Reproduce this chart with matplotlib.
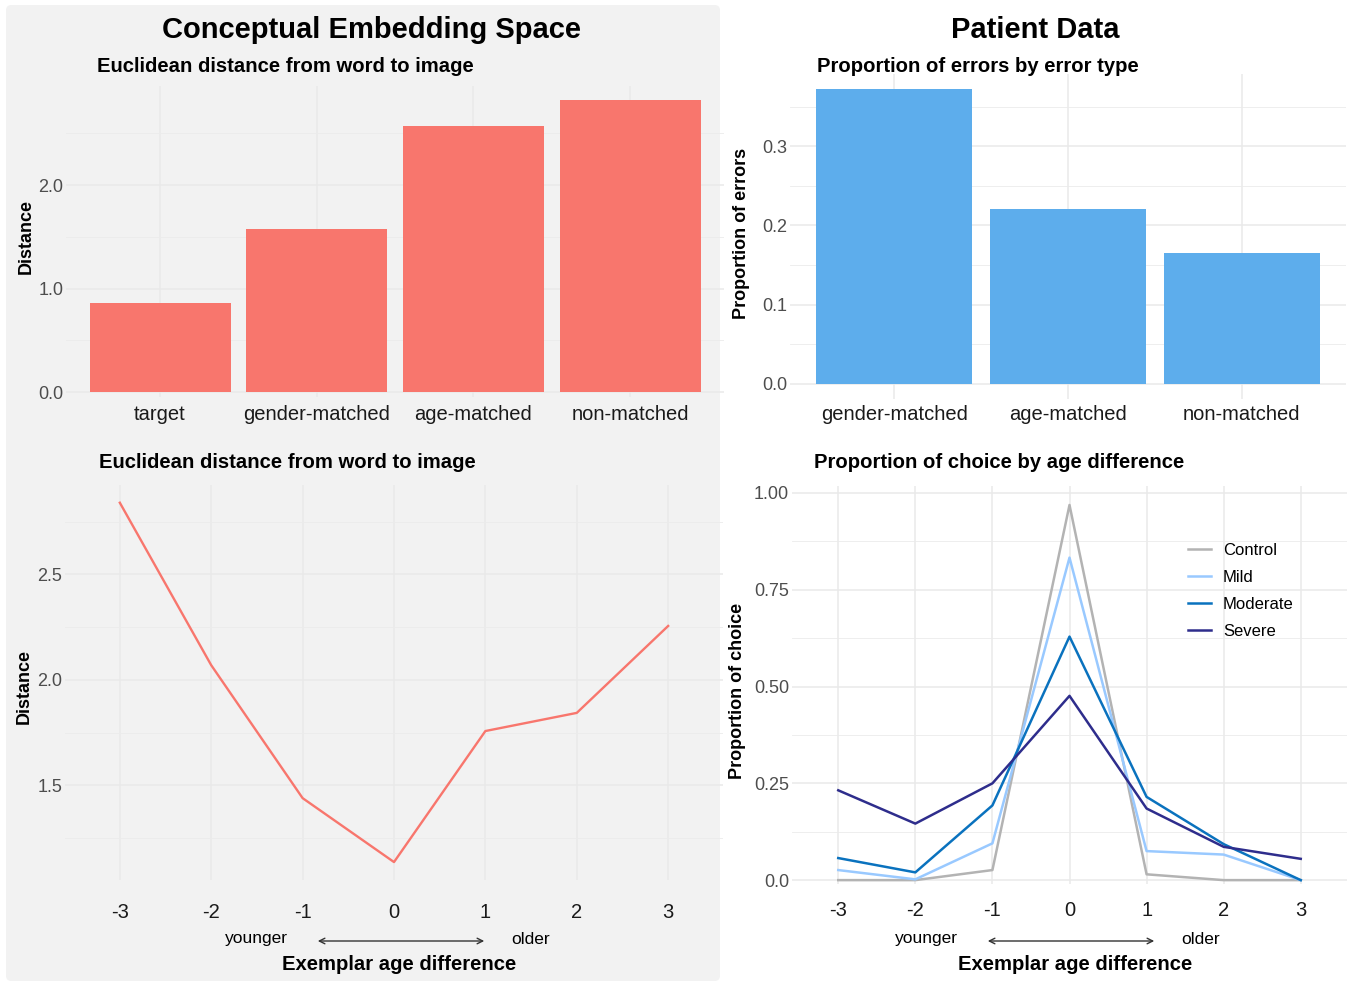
import matplotlib
matplotlib.use("Agg")
import matplotlib.pyplot as plt
from matplotlib.patches import FancyBboxPatch, FancyArrowPatch
from matplotlib.ticker import MultipleLocator, FixedLocator

W, H = 1349, 981

# ---- data ----
dist_cats = ["target", "gender-matched", "age-matched", "non-matched"]
dist_vals = [0.86, 1.575, 2.57, 2.82]

err_cats = ["gender-matched", "age-matched", "non-matched"]
err_vals = [0.372, 0.221, 0.165]

age_diff = [-3, -2, -1, 0, 1, 2, 3]
age_dist = [2.84, 2.07, 1.44, 1.137, 1.758, 1.844, 2.256]

groups = ["Control", "Mild", "Moderate", "Severe"]
control = [0.0, 0.0, 0.026, 0.969, 0.015, 0.0, 0.0]
mild = [0.026, 0.002, 0.095, 0.833, 0.075, 0.066, 0.0]
moderate = [0.057, 0.020, 0.193, 0.629, 0.215, 0.093, 0.0]
severe = [0.232, 0.146, 0.250, 0.476, 0.185, 0.086, 0.055]
group_colors = ["#b3b3b3", "#99c9ff", "#0a72be", "#2e2d8c"]

plt.rcParams["font.family"] = "Liberation Sans"

fig = plt.figure(figsize=(W / 100, H / 100), dpi=100)
fig.patch.set_facecolor("white")


def px_ax(x0, y0, x1, y1):
    # axes from pixel box (top-left origin)
    return fig.add_axes([x0 / W, 1 - y1 / H, (x1 - x0) / W, (y1 - y0) / H])


def ftext(x, y, s, **kw):
    fig.text(x / W, 1 - y / H, s, **kw)


def style(ax, xpad, ypad=2):
    ax.set_facecolor("none")
    for s in ax.spines.values():
        s.set_visible(False)
    ax.set_axisbelow(True)
    ax.grid(True, which="major", color="#e9e9e9", lw=1.1)
    ax.grid(True, which="minor", axis="y", color="#ebebeb", lw=0.6)
    ax.tick_params(which="both", length=0)
    ax.tick_params(axis="y", labelsize=13, labelcolor="#4d4d4d", pad=ypad)
    ax.tick_params(axis="x", labelsize=14.5, labelcolor="#1a1a1a", pad=xpad)


# gray background behind the left half
bg = FancyBboxPatch((6 / W, 0), 714 / W, 976 / H,
                    boxstyle="round,pad=0,rounding_size=0.004",
                    mutation_aspect=W / H,
                    transform=fig.transFigure, fc="#f2f2f2", ec="none", zorder=-1)
fig.add_artist(bg)

# ---- top left: distance bars ----
ax1 = px_ax(66, 86, 724, 397)
ax1.bar(range(len(dist_cats)), dist_vals, width=0.9, color="#f8766d")
ax1.set_xlim(-0.6, 3.6)
ax1.set_ylim(-0.048, 2.957)
ax1.set_xticks(range(len(dist_cats)))
ax1.set_xticklabels(dist_cats)
ax1.yaxis.set_major_locator(MultipleLocator(1.0))
ax1.yaxis.set_minor_locator(FixedLocator([0.5, 1.5, 2.5]))
ax1.yaxis.set_major_formatter(lambda v, p: f"{v:.1f}")
style(ax1, xpad=5.5)

# ---- top right: error proportions ----
ax2 = px_ax(790, 74, 1346, 399)
ax2.bar(range(len(err_cats)), err_vals, width=0.9, color="#5dadec")
ax2.set_xlim(-0.6, 2.6)
ax2.set_ylim(-0.019, 0.391)
ax2.set_xticks(range(len(err_cats)))
ax2.set_xticklabels(err_cats)
ax2.yaxis.set_major_locator(MultipleLocator(0.1))
ax2.yaxis.set_minor_locator(FixedLocator([0.05, 0.15, 0.25, 0.35]))
ax2.yaxis.set_major_formatter(lambda v, p: f"{v:.1f}")
style(ax2, xpad=4.5)

# ---- bottom left: distance by age difference ----
ax3 = px_ax(65, 485, 723, 880)
ax3.plot(age_diff, age_dist, color="#f8766d", lw=1.7)
ax3.set_xlim(-3.6, 3.6)
ax3.set_ylim(1.052, 2.924)
ax3.set_xticks(age_diff)
ax3.set_xticklabels([str(v) for v in age_diff])
ax3.yaxis.set_major_locator(FixedLocator([1.5, 2.0, 2.5]))
ax3.yaxis.set_minor_locator(FixedLocator([1.25, 1.75, 2.25, 2.75]))
ax3.yaxis.set_major_formatter(lambda v, p: f"{v:.1f}")
style(ax3, xpad=16.5)

# ---- bottom right: proportion of choice ----
ax4 = px_ax(792, 486, 1347, 884)
for name, vals, c in zip(groups, [control, mild, moderate, severe], group_colors):
    ax4.plot(age_diff, vals, color=c, lw=1.8, label=name)
ax4.set_xlim(-3.6, 3.6)
ax4.set_ylim(-0.010, 1.018)
ax4.set_xticks(age_diff)
ax4.set_xticklabels([str(v) for v in age_diff])
ax4.yaxis.set_major_locator(FixedLocator([0.0, 0.25, 0.5, 0.75, 1.0]))
ax4.yaxis.set_minor_locator(FixedLocator([0.125, 0.375, 0.625, 0.875]))
ax4.yaxis.set_major_formatter(lambda v, p: "0.0" if v == 0 else f"{v:.2f}")
style(ax4, xpad=12.5)
ax4.legend(loc="upper left", bbox_to_anchor=(1188 / W, 1 - 543 / H),
           bbox_transform=fig.transFigure, frameon=False, fontsize=12,
           handlelength=1.4, handletextpad=0.7, labelspacing=0.72,
           borderpad=0, borderaxespad=0)

# ---- titles and labels ----
ftext(371, 30, "Conceptual Embedding Space", ha="center", va="center",
      fontsize=21, fontweight="bold")
ftext(1035, 30, "Patient Data", ha="center", va="center",
      fontsize=21, fontweight="bold")
ftext(97, 66, "Euclidean distance from word to image", ha="left", va="center",
      fontsize=14.6, fontweight="bold")
ftext(817, 66, "Proportion of errors by error type", ha="left", va="center",
      fontsize=14.6, fontweight="bold")
ftext(99, 462, "Euclidean distance from word to image", ha="left", va="center",
      fontsize=14.6, fontweight="bold")
ftext(814, 462, "Proportion of choice by age difference", ha="left", va="center",
      fontsize=14.6, fontweight="bold")

ftext(26, 236, "Distance", rotation=90, ha="center", va="center",
      fontsize=13, fontweight="bold")
ftext(24, 686, "Distance", rotation=90, ha="center", va="center",
      fontsize=13, fontweight="bold")
ftext(742, 233, "Proportion of errors", rotation=90, ha="center", va="center",
      fontsize=13, fontweight="bold")
ftext(738, 691, "Proportion of choice", rotation=90, ha="center", va="center",
      fontsize=13, fontweight="bold")

for xl, xa0, xa1, xo, xe in [(256, 315, 487, 531, 399), (926, 985, 1157, 1201, 1075)]:
    ftext(xl, 939, "younger", ha="center", va="center", fontsize=12.5)
    ftext(xo, 939, "older", ha="center", va="center", fontsize=12.5)
    fig.add_artist(FancyArrowPatch((xa0 / W, 1 - 941 / H), (xa1 / W, 1 - 941 / H),
                                   transform=fig.transFigure, arrowstyle="<->",
                                   mutation_scale=10, lw=1.0, color="#333333"))
    ftext(xe, 964, "Exemplar age difference", ha="center", va="center",
          fontsize=14.6, fontweight="bold")

fig.savefig("out.png", dpi=100)
